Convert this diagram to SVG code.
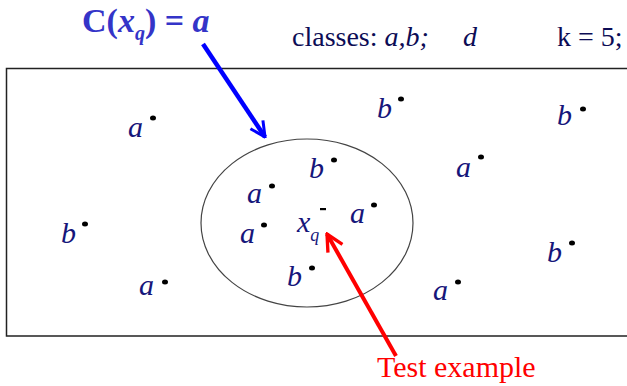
<svg xmlns="http://www.w3.org/2000/svg" width="627" height="386" viewBox="0 0 627 386">
<style>
.lbl{font-family:"Liberation Serif","Times New Roman",serif;font-style:italic;font-size:30px;fill:#16167a}
.dot{fill:#000}
.hdr{font-family:"Liberation Serif","Times New Roman",serif;font-size:28px;fill:#0c0c55}
.ttl{font-family:"Liberation Serif","Times New Roman",serif;font-weight:bold;font-size:34px;fill:#3434c8}
</style>
<defs>
<marker id="openBlue" viewBox="0 0 12 12" refX="11" refY="6" markerWidth="4" markerHeight="4" orient="auto" markerUnits="strokeWidth">
<path d="M1,1 L11,6 L1,11" fill="none" stroke="#0000ff" stroke-width="2"/>
</marker>
<marker id="openRed" viewBox="0 0 12 12" refX="11" refY="6" markerWidth="5" markerHeight="5" orient="auto" markerUnits="strokeWidth">
<path d="M1,1 L11,6 L1,11" fill="none" stroke="#ff0000" stroke-width="2"/>
</marker>
</defs>
<rect width="627" height="386" fill="#fff"/>
<g id="frame">
<path d="M640,68.5 H6.5 V336 H640" fill="none" stroke="#222" stroke-width="1.5"/>
</g>
<g id="neighbourhood">
<ellipse cx="307" cy="223" rx="106" ry="84" fill="none" stroke="#444" stroke-width="1.2"/>
</g>
<g id="title">
<text class="ttl" y="32"><tspan x="82">C(</tspan><tspan font-style="italic">x</tspan><tspan font-style="italic" font-size="20" dy="8">q</tspan><tspan dy="-8">) = </tspan><tspan font-style="italic">a</tspan></text>
</g>
<g id="header">
<text class="hdr" x="292" y="46">classes: <tspan font-style="italic">a,b;</tspan></text>
<text class="hdr" x="463" y="46" font-style="italic">d</text>
<text class="hdr" x="557" y="46">k = 5;</text>
</g>
<g id="p1"><text class="lbl" x="128" y="137">a</text><ellipse class="dot" cx="153" cy="118" rx="3" ry="2.5"/></g>
<g id="p2"><text class="lbl" x="377" y="118">b</text><ellipse class="dot" cx="401" cy="99" rx="3" ry="2.5"/></g>
<g id="p3"><text class="lbl" x="557" y="125">b</text><ellipse class="dot" cx="583" cy="109" rx="3" ry="2.5"/></g>
<g id="p4"><text class="lbl" x="309" y="178">b</text><ellipse class="dot" cx="334" cy="160" rx="3" ry="2.5"/></g>
<g id="p5"><text class="lbl" x="247" y="203">a</text><ellipse class="dot" cx="272" cy="186" rx="3" ry="2.5"/></g>
<g id="p6"><text class="lbl" x="240" y="243">a</text><ellipse class="dot" cx="264" cy="225" rx="3" ry="2.5"/></g>
<g id="query"><text class="lbl" x="297" y="232">x<tspan font-size="18" dy="9">q</tspan></text><rect x="320" y="208" width="6" height="2.2" fill="#000"/></g>
<g id="p8"><text class="lbl" x="350" y="223">a</text><ellipse class="dot" cx="374" cy="205" rx="3" ry="2.5"/></g>
<g id="p9"><text class="lbl" x="287" y="286">b</text><ellipse class="dot" cx="312" cy="268" rx="3" ry="2.5"/></g>
<g id="p10"><text class="lbl" x="456" y="177">a</text><ellipse class="dot" cx="481" cy="157" rx="3" ry="2.5"/></g>
<g id="p12"><text class="lbl" x="547" y="262">b</text><ellipse class="dot" cx="572" cy="243" rx="3" ry="2.5"/></g>
<g id="p13"><text class="lbl" x="433" y="300">a</text><ellipse class="dot" cx="458" cy="282" rx="3" ry="2.5"/></g>
<g id="p14"><text class="lbl" x="61" y="243">b</text><ellipse class="dot" cx="85" cy="224" rx="3" ry="2.5"/></g>
<g id="p15"><text class="lbl" x="139" y="295">a</text><ellipse class="dot" cx="165" cy="282" rx="3" ry="2.5"/></g>
<g id="testLabel">
<text x="377" y="377" font-family="'Liberation Serif','Times New Roman',serif" font-size="30" fill="#ff0000">Test example</text>
</g>
<g id="connectors">
<line x1="203" y1="44" x2="265" y2="137" stroke="#0000ff" stroke-width="4.5" marker-end="url(#openBlue)"/>
<line x1="396" y1="356" x2="327" y2="234" stroke="#ff0000" stroke-width="4" marker-end="url(#openRed)"/>
</g>
</svg>
